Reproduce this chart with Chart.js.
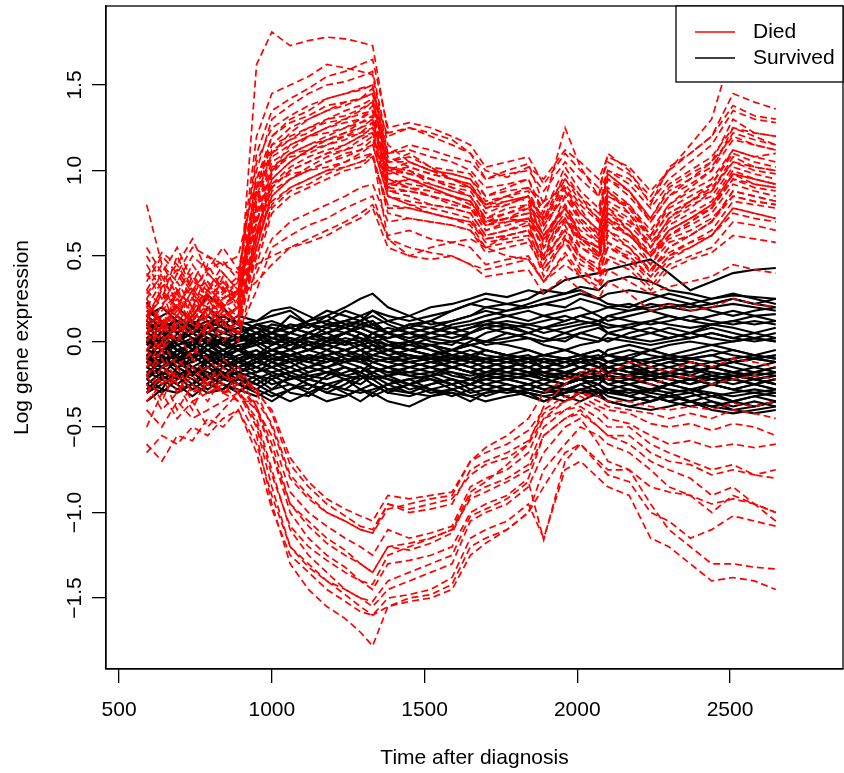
<!DOCTYPE html>
<html>
<head>
<meta charset="utf-8">
<script src="https://cdn.jsdelivr.net/npm/chart.js@4/dist/chart.umd.min.js"></script>
<style>
html,body{margin:0;padding:0;background:#fff;}
canvas{display:block;}
</style>
</head>
<body>
<canvas id="c" width="844" height="773"></canvas>
<script>
// ---- data ----
const times = [590,640,690,740,790,840,890,950,1000,1060,1120,1180,1240,1290,1330,1380,1450,1520,1590,1650,1700,1770,1840,1890,1960,2010,2070,2100,2170,2240,2300,2370,2440,2510,2580,2650];

const xTicks = [500,1000,1500,2000,2500];
const yTicks = [1.5,1.0,0.5,0.0,-0.5,-1.0,-1.5];
const yTickLabels = ["1.5","1.0","0.5","0.0","\u22120.5","\u22121.0","\u22121.5"];
const legendLabels = ["Died","Survived"];
const xTitle = "Time after diagnosis";
const yTitle = "Log gene expression";

// Died, genes going up
const diedUp = [
[0.05,0.22,0.3,0.15,0.25,0.12,0.2,1.62,1.81,1.73,1.76,1.78,1.77,1.75,1.73,1.22,1.25,1.2,1.15,1.1,1.0,0.96,1.02,0.95,1.12,1.05,0.95,1.08,1.02,0.88,1.0,1.15,1.3,1.72,1.62,1.55],
[0.3,0.45,0.35,0.5,0.42,0.47,0.36,1.2,1.45,1.5,1.55,1.62,1.6,1.58,1.56,1.1,1.15,1.12,1.08,1.05,0.95,1.0,1.04,0.8,1.25,1.02,0.85,1.1,1.0,0.8,1.02,1.1,1.2,1.45,1.4,1.36],
[0.1,0.0,0.25,0.18,0.3,0.2,0.15,1.0,1.3,1.38,1.45,1.5,1.52,1.55,1.58,1.15,1.05,1.0,0.98,0.95,0.85,0.9,0.95,0.72,0.98,0.85,0.7,0.95,0.88,0.7,0.85,0.95,1.05,1.3,1.22,1.2],
[0.2,0.35,0.15,0.3,0.1,0.25,0.3,0.9,1.2,1.3,1.35,1.42,1.45,1.48,1.5,1.05,1.1,1.02,0.95,0.92,0.8,0.85,0.9,0.82,0.9,0.78,0.62,0.85,0.8,0.62,0.8,0.9,1.0,1.25,1.2,1.15],
[-0.05,0.1,0.2,0.05,0.15,0.3,0.22,0.85,1.1,1.22,1.3,1.35,1.4,1.42,1.45,1.0,0.98,0.95,0.9,0.88,0.75,0.8,0.85,0.55,0.85,0.7,0.6,0.88,0.75,0.55,0.72,0.82,0.92,1.12,1.08,1.1],
[0.15,0.05,0.3,0.2,0.05,0.18,0.1,0.7,1.0,1.15,1.2,1.25,1.3,1.35,1.4,1.02,1.0,0.92,0.88,0.85,0.7,0.75,0.8,0.62,0.78,0.6,0.55,0.78,0.7,0.58,0.7,0.78,0.88,1.05,1.0,0.98],
[0.4,0.25,0.5,0.3,0.35,0.2,0.3,0.95,1.15,1.2,1.25,1.28,1.3,1.33,1.35,0.95,0.92,0.9,0.85,0.82,0.7,0.72,0.78,0.5,0.8,0.62,0.5,0.72,0.65,0.45,0.62,0.7,0.78,0.95,0.92,0.9],
[0.0,0.15,0.1,0.25,0.2,0.05,0.1,0.6,0.95,1.05,1.12,1.18,1.22,1.28,1.32,0.92,0.9,0.88,0.85,0.8,0.68,0.7,0.72,0.6,0.72,0.55,0.5,0.68,0.62,0.5,0.65,0.72,0.8,0.98,0.95,0.92],
[0.25,0.1,0.0,0.2,0.3,0.35,0.25,0.75,1.0,1.08,1.1,1.15,1.18,1.22,1.28,0.98,1.0,0.95,0.9,0.85,0.72,0.78,0.8,0.68,0.85,0.72,0.62,0.82,0.75,0.6,0.75,0.82,0.88,1.08,1.02,1.0],
[-0.1,0.05,0.15,0.0,0.1,0.2,0.05,0.55,0.85,0.95,1.02,1.08,1.12,1.18,1.22,0.88,0.85,0.8,0.78,0.75,0.62,0.65,0.7,0.45,0.68,0.5,0.42,0.62,0.55,0.4,0.55,0.62,0.7,0.88,0.85,0.82],
[0.12,0.28,0.2,0.38,0.25,0.15,0.2,0.65,0.9,1.0,1.05,1.1,1.15,1.2,1.25,1.05,1.08,1.02,1.0,0.98,0.85,0.88,0.9,0.78,0.95,0.85,0.75,0.98,0.88,0.72,0.9,0.98,1.05,1.2,1.15,1.12],
[0.05,-0.05,0.1,0.15,0.0,0.1,0.15,0.5,0.8,0.9,0.95,1.0,1.05,1.1,1.15,0.85,0.8,0.78,0.75,0.72,0.6,0.62,0.65,0.42,0.62,0.48,0.4,0.55,0.5,0.38,0.5,0.58,0.65,0.82,0.8,0.78],
[0.3,0.2,0.4,0.25,0.45,0.3,0.25,0.8,1.05,1.12,1.2,1.25,1.28,1.3,1.38,1.1,1.12,1.08,1.05,1.0,0.9,0.92,0.95,0.75,1.02,0.88,0.78,1.0,0.92,0.78,0.92,1.0,1.08,1.25,1.22,1.2],
[0.15,0.3,0.05,0.2,0.15,0.25,0.35,0.7,0.92,0.98,1.0,1.05,1.08,1.12,1.18,0.9,0.95,0.9,0.85,0.82,0.7,0.72,0.75,0.58,0.75,0.6,0.52,0.75,0.65,0.5,0.65,0.72,0.8,0.98,0.95,0.92],
[-0.15,0.0,0.1,0.05,0.2,0.1,0.0,0.45,0.75,0.85,0.9,0.95,1.0,1.02,1.08,0.8,0.78,0.75,0.72,0.7,0.58,0.6,0.62,0.38,0.6,0.42,0.35,0.58,0.48,0.35,0.48,0.55,0.62,0.78,0.75,0.72],
[0.2,0.35,0.25,0.1,0.3,0.4,0.3,0.85,1.1,1.18,1.22,1.3,1.32,1.36,1.4,1.0,1.02,0.98,0.95,0.92,0.78,0.82,0.85,0.7,0.9,0.75,0.65,0.9,0.8,0.65,0.8,0.88,0.95,1.12,1.08,1.05],
[0.1,0.2,0.15,0.3,0.25,0.2,0.25,0.35,0.45,0.55,0.6,0.65,0.7,0.75,0.8,0.62,0.65,0.6,0.58,0.55,0.45,0.48,0.5,0.35,0.52,0.4,0.35,0.5,0.45,0.32,0.45,0.5,0.55,0.7,0.68,0.65],
[0.35,0.5,0.4,0.55,0.5,0.45,0.4,0.45,0.5,0.55,0.58,0.62,0.68,0.72,0.78,0.55,0.5,0.48,0.5,0.45,0.42,0.45,0.48,0.35,0.5,0.38,0.32,0.48,0.42,0.3,0.42,0.48,0.52,0.62,0.6,0.58],
[0.08,0.18,0.28,0.12,0.22,0.32,0.18,0.62,0.98,1.1,1.15,1.2,1.25,1.28,1.3,0.95,0.9,0.85,0.82,0.78,0.65,0.68,0.72,0.55,0.72,0.58,0.5,0.72,0.62,0.5,0.62,0.7,0.78,0.98,0.92,0.9],
[0.5,0.35,0.45,0.6,0.4,0.3,0.38,1.05,1.25,1.32,1.38,1.42,1.45,1.47,1.5,1.08,1.02,0.98,0.95,0.9,0.8,0.82,0.85,0.72,0.92,0.8,0.7,0.95,0.85,0.7,0.85,0.92,1.0,1.18,1.15,1.12],
[0.8,0.45,0.3,0.2,0.35,0.25,0.3,0.78,1.02,1.1,1.15,1.18,1.2,1.22,1.25,0.9,0.88,0.85,0.8,0.78,0.65,0.7,0.72,0.6,0.78,0.62,0.55,0.78,0.65,0.52,0.65,0.72,0.78,0.95,0.9,0.88],
[-0.2,-0.05,0.05,-0.1,0.1,0.05,0.12,0.55,0.88,0.95,1.0,1.05,1.1,1.12,1.15,0.85,0.82,0.8,0.78,0.75,0.62,0.65,0.68,0.48,0.65,0.5,0.42,0.65,0.55,0.42,0.55,0.62,0.7,0.88,0.85,0.82],
[0.25,0.4,0.55,0.35,0.3,0.45,0.5,0.95,1.2,1.28,1.32,1.38,1.4,1.42,1.48,1.05,1.05,1.0,0.98,0.95,0.82,0.85,0.88,0.7,0.95,0.82,0.72,0.98,0.88,0.72,0.88,0.95,1.02,1.22,1.18,1.15],
[0.0,0.1,0.2,0.1,0.05,0.15,0.2,0.4,0.6,0.7,0.75,0.8,0.85,0.9,0.92,0.7,0.72,0.7,0.68,0.65,0.52,0.55,0.58,0.42,0.58,0.45,0.4,0.55,0.48,0.38,0.5,0.55,0.62,0.78,0.75,0.72],
[0.1,-0.05,0.15,0.05,0.2,0.1,0.05,0.3,0.55,0.62,0.68,0.72,0.78,0.82,0.85,0.6,0.55,0.52,0.5,0.45,0.38,0.4,0.42,0.28,0.38,0.3,0.25,0.35,0.28,0.18,0.22,0.18,0.2,0.25,0.22,0.2],
[0.2,0.1,0.3,0.4,0.25,0.35,0.2,0.55,0.85,0.95,1.0,1.02,1.05,1.08,1.1,0.6,0.5,0.55,0.58,0.6,0.55,0.62,0.65,0.5,0.72,0.6,0.55,0.7,0.62,0.5,0.6,0.65,0.72,0.85,0.82,0.8],
[0.15,0.25,0.35,0.2,0.4,0.3,0.25,0.9,1.15,1.25,1.3,1.35,1.38,1.42,1.45,1.2,1.25,1.22,1.18,1.1,0.95,0.98,1.0,0.88,1.05,0.95,0.85,1.0,0.95,0.82,0.95,1.05,1.15,1.35,1.3,1.28],
[0.45,0.3,0.2,0.35,0.5,0.4,0.3,0.7,0.95,1.05,1.12,1.15,1.2,1.25,1.3,1.0,0.95,0.92,0.88,0.85,0.72,0.75,0.78,0.62,0.78,0.65,0.58,0.75,0.68,0.55,0.68,0.75,0.82,1.0,0.95,0.92],
[0.05,0.12,0.0,0.18,0.1,0.22,0.15,0.6,0.9,1.0,1.05,1.1,1.12,1.15,1.2,0.85,0.8,0.75,0.72,0.68,0.55,0.5,0.48,0.35,0.45,0.38,0.3,0.42,0.35,0.28,0.32,0.35,0.38,0.45,0.42,0.4],
[0.28,0.38,0.22,0.12,0.3,0.2,0.28,0.82,1.08,1.15,1.2,1.22,1.25,1.3,1.35,1.0,1.05,1.0,0.95,0.9,0.8,0.85,0.82,0.65,0.88,0.75,0.65,0.88,0.78,0.62,0.78,0.85,0.92,1.1,1.05,1.02],
[0.18,0.08,0.22,0.32,0.15,0.28,0.35,1.1,1.35,1.42,1.48,1.55,1.58,1.62,1.65,1.25,1.28,1.25,1.2,1.15,1.02,1.05,1.08,0.92,1.1,1.0,0.9,1.05,0.98,0.85,1.0,1.1,1.2,1.38,1.32,1.3],
[-0.05,0.08,0.18,0.25,0.12,0.0,0.1,0.5,0.78,0.88,0.92,0.98,1.02,1.05,1.1,0.75,0.72,0.7,0.68,0.65,0.55,0.58,0.6,0.48,0.6,0.5,0.45,0.58,0.52,0.42,0.52,0.58,0.62,0.75,0.72,0.7],
[0.38,0.52,0.45,0.3,0.42,0.55,0.42,0.88,1.12,1.18,1.25,1.3,1.35,1.38,1.42,1.02,0.98,0.95,0.92,0.9,0.78,0.8,0.85,0.68,0.88,0.72,0.62,0.85,0.78,0.6,0.75,0.82,0.9,1.05,1.02,1.0],
[0.12,0.32,0.42,0.28,0.18,0.38,0.22,0.72,1.0,1.1,1.12,1.18,1.22,1.25,1.28,0.92,0.95,0.9,0.85,0.82,0.68,0.72,0.75,0.62,0.8,0.68,0.58,0.8,0.72,0.55,0.72,0.8,0.85,1.02,0.98,0.95],
[0.22,0.12,0.05,0.15,0.28,0.18,0.12,0.65,0.92,1.02,1.08,1.12,1.15,1.2,1.22,0.88,0.88,0.85,0.82,0.78,0.68,0.72,0.7,0.55,0.7,0.6,0.52,0.72,0.62,0.5,0.62,0.68,0.75,0.92,0.88,0.85],
[0.55,0.4,0.28,0.45,0.32,0.22,0.28,0.6,0.82,0.9,0.95,1.0,1.02,1.05,1.08,0.78,0.78,0.75,0.72,0.7,0.6,0.62,0.65,0.5,0.65,0.55,0.48,0.65,0.58,0.45,0.58,0.62,0.7,0.85,0.82,0.8]
];

// Died, genes going down
const diedDown = [
[-0.2,-0.35,-0.15,-0.3,-0.25,-0.3,-0.35,-0.55,-0.95,-1.3,-1.45,-1.55,-1.62,-1.7,-1.78,-1.55,-1.5,-1.48,-1.42,-1.2,-1.15,-1.1,-1.0,-0.75,-0.6,-0.5,-0.55,-0.6,-0.65,-0.75,-0.85,-0.9,-1.0,-0.9,-0.95,-1.05],
[-0.6,-0.7,-0.55,-0.58,-0.45,-0.5,-0.4,-0.65,-0.98,-1.25,-1.35,-1.45,-1.52,-1.58,-1.6,-1.5,-1.48,-1.45,-1.38,-1.15,-1.1,-1.05,-0.95,-1.15,-0.75,-0.7,-0.8,-0.85,-0.9,-1.15,-1.2,-1.3,-1.4,-1.38,-1.4,-1.45],
[-0.1,-0.25,-0.2,-0.35,-0.3,-0.15,-0.3,-0.45,-0.75,-1.1,-1.25,-1.35,-1.45,-1.5,-1.55,-1.45,-1.4,-1.35,-1.3,-1.05,-1.0,-0.95,-0.85,-0.65,-0.5,-0.45,-0.6,-0.7,-0.75,-0.95,-1.1,-1.2,-1.3,-1.3,-1.32,-1.33],
[-0.3,-0.2,-0.4,-0.25,-0.35,-0.2,-0.25,-0.4,-0.65,-1.0,-1.15,-1.25,-1.32,-1.4,-1.45,-1.3,-1.28,-1.25,-1.2,-1.0,-0.95,-0.9,-0.8,-0.55,-0.45,-0.4,-0.5,-0.55,-0.6,-0.7,-0.75,-0.8,-0.9,-0.85,-0.95,-1.0],
[-0.15,-0.05,-0.25,-0.1,-0.2,-0.3,-0.2,-0.38,-0.6,-0.95,-1.05,-1.15,-1.22,-1.3,-1.35,-1.2,-1.22,-1.18,-1.12,-0.9,-0.85,-0.8,-0.72,-0.5,-0.4,-0.38,-0.45,-0.5,-0.5,-0.6,-0.65,-0.7,-0.75,-0.72,-0.78,-0.8],
[-0.4,-0.5,-0.35,-0.45,-0.4,-0.35,-0.3,-0.4,-0.55,-0.88,-1.0,-1.08,-1.15,-1.2,-1.25,-1.1,-1.15,-1.12,-1.08,-0.85,-0.8,-0.75,-0.65,-0.45,-0.4,-0.35,-0.4,-0.45,-0.48,-0.55,-0.6,-0.58,-0.62,-0.6,-0.62,-0.6],
[-0.25,-0.4,-0.3,-0.2,-0.3,-0.25,-0.35,-0.35,-0.48,-0.78,-0.9,-1.0,-1.05,-1.1,-1.12,-0.95,-1.0,-0.98,-0.95,-0.75,-0.7,-0.65,-0.58,-0.42,-0.35,-0.32,-0.38,-0.4,-0.42,-0.48,-0.5,-0.48,-0.52,-0.48,-0.5,-0.55],
[-0.05,-0.15,-0.1,-0.2,-0.15,-0.25,-0.2,-0.3,-0.4,-0.68,-0.82,-0.92,-0.98,-1.02,-1.05,-0.9,-0.92,-0.9,-0.88,-0.7,-0.65,-0.6,-0.52,-0.4,-0.32,-0.3,-0.35,-0.38,-0.4,-0.42,-0.45,-0.42,-0.45,-0.4,-0.42,-0.45],
[-0.5,-0.3,-0.45,-0.35,-0.5,-0.4,-0.3,-0.5,-0.85,-1.2,-1.3,-1.4,-1.45,-1.5,-1.52,-1.4,-1.35,-1.3,-1.25,-1.02,-0.98,-0.92,-0.82,-1.16,-0.7,-0.6,-0.72,-0.78,-0.82,-1.0,-1.05,-1.15,-1.1,-1.02,-1.05,-1.08],
[-0.35,-0.25,-0.15,-0.3,-0.2,-0.3,-0.28,-0.48,-0.78,-1.08,-1.2,-1.28,-1.35,-1.4,-1.42,-1.25,-1.2,-1.15,-1.1,-0.92,-0.88,-0.82,-0.75,-0.55,-0.45,-0.42,-0.5,-0.55,-0.55,-0.65,-0.7,-0.72,-0.78,-0.75,-0.78,-0.75],
[-0.65,-0.55,-0.6,-0.5,-0.55,-0.45,-0.4,-0.6,-0.9,-1.2,-1.32,-1.4,-1.48,-1.55,-1.6,-1.55,-1.52,-1.5,-1.45,-1.25,-1.18,-1.1,-1.0,-0.85,-0.65,-0.6,-0.7,-0.75,-0.75,-0.85,-0.88,-0.9,-0.95,-0.92,-0.95,-1.0],
[-0.2,-0.1,-0.3,-0.15,-0.25,-0.1,-0.18,-0.28,-0.42,-0.72,-0.85,-0.95,-1.02,-1.08,-1.1,-0.95,-0.98,-0.95,-0.92,-0.78,-0.72,-0.68,-0.6,-0.45,-0.35,-0.3,-0.32,-0.35,-0.35,-0.38,-0.4,-0.38,-0.4,-0.36,-0.38,-0.35],
[-0.1,0.0,-0.15,-0.05,-0.1,-0.2,-0.15,-0.3,-0.5,-0.8,-0.92,-1.0,-1.05,-1.1,-1.12,-0.98,-0.95,-0.92,-0.9,-0.7,-0.62,-0.55,-0.45,-0.3,-0.22,-0.2,-0.18,-0.22,-0.2,-0.25,-0.22,-0.2,-0.25,-0.22,-0.2,-0.22],
[-0.3,-0.15,-0.25,-0.4,-0.2,-0.3,-0.25,-0.38,-0.65,-0.95,-1.08,-1.18,-1.25,-1.3,-1.35,-1.2,-1.18,-1.15,-1.1,-0.88,-0.82,-0.72,-0.6,-0.38,-0.25,-0.18,-0.15,-0.2,-0.12,-0.15,-0.18,-0.12,-0.15,-0.1,-0.12,-0.15]
];

// Survived
const survived = [
[0.1,0.05,0.15,0.08,0.2,0.12,0.05,0.1,0.05,0.15,0.1,0.12,0.18,0.15,0.1,0.12,0.15,0.2,0.22,0.25,0.28,0.26,0.3,0.28,0.36,0.38,0.4,0.42,0.45,0.48,0.4,0.3,0.35,0.4,0.42,0.43],
[0.23,0.1,0.05,0.15,0.27,0.2,0.1,0.0,0.05,0.1,0.08,0.15,0.2,0.25,0.28,0.2,0.15,0.1,0.12,0.15,0.2,0.22,0.25,0.3,0.28,0.32,0.3,0.35,0.38,0.35,0.3,0.28,0.25,0.27,0.26,0.25],
[0.0,-0.1,0.05,-0.05,0.1,0.0,-0.05,0.05,0.0,-0.05,0.05,0.1,0.12,0.15,0.1,0.05,0.0,0.05,0.1,0.12,0.15,0.18,0.2,0.22,0.2,0.25,0.22,0.2,0.18,0.22,0.2,0.18,0.2,0.22,0.2,0.18],
[-0.1,-0.15,-0.05,-0.12,-0.08,-0.15,-0.1,-0.05,-0.1,-0.08,-0.05,0.0,-0.02,0.05,0.0,-0.05,-0.1,-0.08,-0.05,0.0,0.05,0.08,0.1,0.12,0.15,0.12,0.1,0.15,0.12,0.1,0.12,0.15,0.12,0.1,0.12,0.1],
[-0.2,-0.1,-0.18,-0.25,-0.15,-0.2,-0.12,-0.18,-0.15,-0.1,-0.15,-0.12,-0.08,-0.1,-0.15,-0.2,-0.18,-0.15,-0.2,-0.22,-0.18,-0.2,-0.22,-0.25,-0.2,-0.22,-0.25,-0.2,-0.22,-0.25,-0.28,-0.3,-0.25,-0.28,-0.3,-0.32],
[0.05,0.1,-0.02,0.0,0.08,0.05,0.12,0.08,0.05,0.0,0.02,0.05,0.0,-0.02,0.05,0.0,-0.05,-0.02,-0.08,-0.1,-0.05,-0.08,-0.1,-0.12,-0.15,-0.1,-0.08,-0.12,-0.1,-0.15,-0.12,-0.1,-0.08,-0.12,-0.1,-0.12],
[-0.3,-0.25,-0.2,-0.28,-0.22,-0.18,-0.25,-0.2,-0.25,-0.22,-0.2,-0.18,-0.22,-0.25,-0.2,-0.22,-0.25,-0.28,-0.25,-0.3,-0.28,-0.25,-0.28,-0.3,-0.25,-0.22,-0.28,-0.3,-0.32,-0.28,-0.3,-0.35,-0.38,-0.4,-0.42,-0.4],
[-0.05,0.0,-0.1,-0.05,-0.12,-0.08,-0.02,-0.1,-0.05,-0.1,-0.12,-0.08,-0.05,-0.1,-0.12,-0.15,-0.12,-0.1,-0.15,-0.18,-0.15,-0.12,-0.15,-0.18,-0.2,-0.15,-0.12,-0.18,-0.15,-0.2,-0.18,-0.15,-0.2,-0.22,-0.18,-0.2],
[0.1,0.15,0.2,0.12,0.08,0.15,0.1,0.12,0.15,0.18,0.1,0.05,0.1,0.08,0.05,0.02,0.05,0.0,-0.02,0.05,0.08,0.05,0.02,0.0,0.05,0.02,0.0,0.05,0.08,0.05,0.02,0.05,0.08,0.05,0.02,0.05],
[-0.15,-0.2,-0.1,-0.15,-0.2,-0.12,-0.18,-0.22,-0.28,-0.2,-0.25,-0.3,-0.25,-0.2,-0.22,-0.28,-0.3,-0.25,-0.22,-0.25,-0.2,-0.22,-0.25,-0.22,-0.18,-0.2,-0.15,-0.18,-0.2,-0.15,-0.18,-0.2,-0.15,-0.18,-0.2,-0.18],
[-0.08,-0.02,-0.12,-0.05,0.0,-0.08,-0.05,0.0,0.05,0.0,-0.05,0.0,0.05,0.02,-0.02,-0.05,0.0,-0.05,-0.1,-0.08,-0.12,-0.15,-0.12,-0.1,-0.12,-0.15,-0.18,-0.15,-0.12,-0.18,-0.15,-0.12,-0.15,-0.18,-0.15,-0.12],
[0.12,0.05,0.0,0.08,0.02,-0.05,0.0,0.05,-0.02,0.05,0.1,0.08,0.12,0.1,0.08,0.05,0.1,0.12,0.08,0.05,0.1,0.12,0.1,0.08,0.05,0.08,0.1,0.05,0.02,0.05,0.08,0.05,0.1,0.08,0.05,0.08],
[-0.25,-0.18,-0.22,-0.15,-0.2,-0.25,-0.3,-0.22,-0.18,-0.15,-0.2,-0.22,-0.18,-0.15,-0.2,-0.25,-0.22,-0.2,-0.25,-0.22,-0.25,-0.28,-0.25,-0.28,-0.3,-0.25,-0.22,-0.25,-0.28,-0.3,-0.25,-0.22,-0.25,-0.28,-0.25,-0.28],
[0.0,0.05,0.08,0.02,-0.05,0.0,0.05,-0.02,0.0,-0.05,-0.02,0.02,0.0,-0.05,-0.08,-0.05,-0.02,-0.05,-0.08,-0.12,-0.1,-0.08,-0.1,-0.15,-0.12,-0.1,-0.15,-0.18,-0.15,-0.12,-0.1,-0.12,-0.15,-0.12,-0.1,-0.08],
[-0.12,-0.08,-0.15,-0.2,-0.1,-0.05,-0.12,-0.15,-0.1,-0.12,-0.08,-0.1,-0.12,-0.08,-0.1,-0.12,-0.15,-0.12,-0.1,-0.12,-0.15,-0.18,-0.2,-0.18,-0.22,-0.2,-0.18,-0.22,-0.25,-0.22,-0.2,-0.22,-0.25,-0.2,-0.22,-0.25],
[0.15,0.08,0.12,0.05,0.1,0.05,0.02,0.1,0.08,0.05,0.12,0.15,0.1,0.12,0.15,0.1,0.05,0.08,0.12,0.15,0.18,0.15,0.12,0.15,0.18,0.2,0.15,0.12,0.15,0.18,0.15,0.12,0.15,0.18,0.15,0.16],
[-0.22,-0.28,-0.15,-0.2,-0.12,-0.18,-0.22,-0.25,-0.2,-0.25,-0.28,-0.2,-0.15,-0.18,-0.22,-0.2,-0.25,-0.22,-0.28,-0.25,-0.22,-0.25,-0.28,-0.3,-0.28,-0.25,-0.3,-0.28,-0.32,-0.35,-0.3,-0.28,-0.32,-0.35,-0.38,-0.35],
[0.02,-0.05,0.0,0.05,-0.02,-0.08,-0.05,-0.1,-0.05,0.0,0.05,0.02,-0.02,0.0,0.05,0.08,0.05,0.02,0.0,-0.02,0.0,0.05,0.02,0.0,0.02,0.05,0.08,0.05,0.02,0.0,0.02,0.05,0.02,0.0,0.02,0.0],
[-0.18,-0.12,-0.08,-0.15,-0.22,-0.15,-0.1,-0.15,-0.18,-0.22,-0.18,-0.15,-0.2,-0.18,-0.15,-0.18,-0.2,-0.18,-0.15,-0.18,-0.2,-0.18,-0.15,-0.2,-0.22,-0.18,-0.2,-0.25,-0.22,-0.2,-0.22,-0.25,-0.22,-0.2,-0.22,-0.25],
[-0.05,-0.1,-0.08,0.0,-0.05,-0.12,-0.08,-0.05,-0.12,-0.15,-0.1,-0.05,-0.1,-0.12,-0.08,-0.1,-0.12,-0.15,-0.12,-0.1,-0.12,-0.1,-0.08,-0.12,-0.1,-0.08,-0.05,-0.08,-0.1,-0.05,-0.02,0.0,-0.02,0.0,0.02,0.0],
[0.08,0.02,0.1,0.05,0.0,0.05,0.08,0.02,-0.02,0.02,0.0,-0.05,0.0,0.02,-0.02,-0.08,-0.05,-0.02,-0.05,-0.02,0.0,-0.02,-0.05,-0.08,-0.1,-0.12,-0.1,-0.08,-0.05,-0.08,-0.1,-0.08,-0.05,-0.08,-0.1,-0.08],
[-0.28,-0.2,-0.25,-0.32,-0.25,-0.2,-0.15,-0.2,-0.22,-0.3,-0.32,-0.25,-0.22,-0.28,-0.32,-0.28,-0.25,-0.3,-0.28,-0.32,-0.3,-0.28,-0.3,-0.32,-0.3,-0.28,-0.25,-0.3,-0.28,-0.32,-0.35,-0.32,-0.3,-0.35,-0.32,-0.3],
[-0.02,0.05,-0.05,-0.1,-0.02,0.02,-0.05,-0.08,-0.02,0.02,-0.02,-0.05,-0.08,-0.05,-0.02,-0.05,-0.08,-0.1,-0.08,-0.05,-0.08,-0.1,-0.12,-0.1,-0.15,-0.12,-0.1,-0.12,-0.15,-0.12,-0.15,-0.18,-0.15,-0.12,-0.15,-0.18],
[-0.1,-0.05,-0.12,-0.08,-0.05,-0.1,-0.15,-0.12,-0.08,-0.05,-0.1,-0.12,-0.08,-0.05,-0.1,-0.12,-0.1,-0.08,-0.12,-0.15,-0.18,-0.15,-0.18,-0.2,-0.18,-0.15,-0.12,-0.15,-0.18,-0.2,-0.18,-0.2,-0.22,-0.25,-0.22,-0.2],
[0.05,0.0,0.08,0.1,0.05,0.02,0.0,0.05,0.08,0.05,0.02,0.08,0.05,0.1,0.12,0.05,0.08,0.12,0.18,0.22,0.2,0.18,0.22,0.25,0.28,0.3,0.25,0.22,0.2,0.25,0.28,0.25,0.22,0.25,0.22,0.2],
[-0.15,-0.2,-0.25,-0.18,-0.12,-0.2,-0.25,-0.3,-0.35,-0.28,-0.22,-0.25,-0.3,-0.35,-0.3,-0.25,-0.22,-0.28,-0.32,-0.28,-0.25,-0.28,-0.3,-0.35,-0.3,-0.28,-0.32,-0.28,-0.25,-0.3,-0.32,-0.35,-0.32,-0.3,-0.28,-0.3],
[0.0,-0.05,0.02,0.08,0.12,0.08,0.02,0.0,-0.05,-0.02,0.02,0.05,0.08,0.05,0.02,-0.02,-0.05,-0.08,-0.05,-0.08,-0.1,-0.12,-0.1,-0.08,-0.05,-0.08,-0.1,-0.05,-0.02,-0.05,-0.08,-0.05,-0.02,-0.05,-0.08,-0.05],
[-0.08,-0.15,-0.1,-0.05,-0.1,-0.15,-0.12,-0.08,-0.12,-0.18,-0.15,-0.1,-0.12,-0.15,-0.18,-0.15,-0.12,-0.15,-0.18,-0.2,-0.18,-0.15,-0.18,-0.22,-0.25,-0.22,-0.2,-0.22,-0.25,-0.28,-0.25,-0.22,-0.25,-0.28,-0.25,-0.22],
[0.1,0.05,0.0,0.05,0.1,0.15,0.1,0.05,0.1,0.08,0.05,0.1,0.12,0.15,0.18,0.12,0.08,0.05,0.02,0.05,0.08,0.1,0.05,0.08,0.12,0.15,0.12,0.15,0.18,0.2,0.22,0.2,0.22,0.25,0.22,0.25],
[-0.2,-0.15,-0.1,-0.18,-0.25,-0.2,-0.18,-0.12,-0.15,-0.2,-0.25,-0.28,-0.22,-0.2,-0.25,-0.3,-0.25,-0.2,-0.18,-0.22,-0.25,-0.22,-0.2,-0.22,-0.25,-0.2,-0.22,-0.18,-0.2,-0.22,-0.25,-0.22,-0.2,-0.22,-0.25,-0.22],
[0.05,-0.02,-0.08,0.0,0.05,-0.02,-0.05,0.02,0.05,0.08,0.05,0.0,0.05,0.08,0.1,0.05,0.0,-0.02,0.0,0.02,-0.02,0.0,0.02,-0.02,-0.05,-0.02,0.0,0.02,0.0,-0.02,0.0,0.02,0.05,0.02,0.0,0.02],
[-0.12,-0.18,-0.22,-0.15,-0.1,-0.15,-0.2,-0.18,-0.12,-0.08,-0.12,-0.15,-0.12,-0.08,-0.12,-0.15,-0.18,-0.2,-0.15,-0.12,-0.15,-0.18,-0.2,-0.15,-0.18,-0.2,-0.22,-0.18,-0.15,-0.18,-0.2,-0.18,-0.15,-0.18,-0.2,-0.18],
[-0.25,-0.3,-0.22,-0.18,-0.25,-0.28,-0.2,-0.25,-0.3,-0.35,-0.3,-0.25,-0.28,-0.3,-0.28,-0.25,-0.3,-0.32,-0.28,-0.25,-0.28,-0.3,-0.28,-0.25,-0.28,-0.3,-0.28,-0.32,-0.35,-0.32,-0.35,-0.38,-0.35,-0.38,-0.35,-0.38],
[0.15,0.2,0.12,0.05,0.08,0.12,0.05,0.1,0.12,0.08,0.12,0.18,0.15,0.12,0.08,0.05,0.1,0.08,0.05,0.08,0.12,0.1,0.08,0.05,0.08,0.1,0.12,0.1,0.08,0.12,0.1,0.08,0.1,0.12,0.1,0.12],
[-0.08,-0.12,-0.05,-0.02,-0.08,-0.05,-0.1,-0.08,-0.05,-0.08,-0.05,-0.02,-0.05,-0.08,-0.05,-0.02,-0.05,-0.08,-0.1,-0.08,-0.12,-0.1,-0.12,-0.15,-0.12,-0.1,-0.12,-0.15,-0.18,-0.15,-0.12,-0.15,-0.12,-0.15,-0.18,-0.15],
[-0.02,0.02,-0.05,-0.08,-0.02,0.0,0.02,-0.02,0.02,0.0,-0.05,-0.02,0.02,0.0,-0.05,-0.02,0.0,-0.02,-0.05,-0.08,-0.05,-0.08,-0.05,-0.08,-0.1,-0.08,-0.05,-0.08,-0.12,-0.1,-0.08,-0.1,-0.12,-0.1,-0.08,-0.1],
[-0.18,-0.22,-0.28,-0.25,-0.2,-0.25,-0.28,-0.32,-0.28,-0.25,-0.3,-0.35,-0.32,-0.28,-0.3,-0.35,-0.38,-0.32,-0.3,-0.35,-0.3,-0.28,-0.32,-0.35,-0.3,-0.28,-0.3,-0.35,-0.38,-0.35,-0.32,-0.3,-0.35,-0.4,-0.38,-0.35],
[0.08,0.12,0.05,0.1,0.15,0.08,0.05,0.08,0.02,0.05,0.1,0.12,0.08,0.05,0.02,0.05,0.02,0.05,0.08,0.1,0.12,0.15,0.18,0.15,0.12,0.15,0.18,0.2,0.22,0.18,0.2,0.22,0.18,0.15,0.18,0.2],
[-0.1,-0.05,-0.02,-0.08,-0.15,-0.1,-0.05,-0.12,-0.15,-0.12,-0.08,-0.1,-0.15,-0.18,-0.12,-0.1,-0.08,-0.12,-0.15,-0.18,-0.15,-0.12,-0.15,-0.18,-0.15,-0.12,-0.15,-0.2,-0.22,-0.2,-0.22,-0.25,-0.2,-0.18,-0.22,-0.25],
[-0.3,-0.22,-0.18,-0.22,-0.28,-0.22,-0.25,-0.28,-0.22,-0.18,-0.22,-0.25,-0.28,-0.22,-0.18,-0.22,-0.28,-0.25,-0.22,-0.28,-0.32,-0.28,-0.25,-0.28,-0.32,-0.35,-0.3,-0.28,-0.32,-0.35,-0.32,-0.35,-0.38,-0.35,-0.32,-0.35],
[0.02,0.08,0.12,0.08,0.02,-0.02,0.02,0.05,0.02,-0.02,0.02,0.0,0.05,0.08,0.05,0.0,-0.02,0.02,0.05,0.02,0.0,0.02,0.05,0.02,0.0,0.05,0.02,0.0,0.05,0.08,0.05,0.02,0.05,0.02,0.05,0.02],
[-0.15,-0.1,-0.15,-0.12,-0.08,-0.12,-0.15,-0.1,-0.08,-0.12,-0.18,-0.15,-0.1,-0.12,-0.15,-0.18,-0.15,-0.12,-0.15,-0.18,-0.2,-0.15,-0.12,-0.15,-0.18,-0.15,-0.18,-0.22,-0.2,-0.18,-0.2,-0.22,-0.18,-0.2,-0.22,-0.2],
[-0.05,-0.08,-0.02,0.02,0.0,-0.05,-0.02,0.0,-0.05,-0.08,-0.05,-0.08,-0.05,-0.02,-0.05,-0.08,-0.12,-0.1,-0.12,-0.15,-0.12,-0.15,-0.18,-0.15,-0.18,-0.2,-0.18,-0.15,-0.18,-0.2,-0.18,-0.15,-0.18,-0.2,-0.18,-0.15],
[0.18,0.12,0.08,0.12,0.05,0.1,0.15,0.12,0.18,0.2,0.15,0.1,0.08,0.12,0.18,0.15,0.12,0.15,0.18,0.22,0.25,0.22,0.2,0.22,0.25,0.28,0.25,0.28,0.3,0.28,0.25,0.22,0.25,0.28,0.25,0.22],
[-0.22,-0.15,-0.12,-0.18,-0.15,-0.22,-0.18,-0.15,-0.2,-0.18,-0.15,-0.18,-0.2,-0.22,-0.18,-0.15,-0.2,-0.22,-0.25,-0.22,-0.2,-0.22,-0.25,-0.28,-0.25,-0.22,-0.25,-0.28,-0.3,-0.28,-0.25,-0.28,-0.3,-0.32,-0.3,-0.28],
[0.05,0.0,-0.05,-0.02,0.02,0.0,-0.05,-0.02,-0.08,-0.05,0.0,-0.02,-0.05,-0.02,0.0,-0.02,-0.05,-0.08,-0.05,-0.02,-0.05,-0.08,-0.1,-0.08,-0.05,-0.08,-0.1,-0.12,-0.08,-0.05,-0.08,-0.1,-0.08,-0.05,-0.08,-0.1],
[-0.12,-0.15,-0.2,-0.15,-0.18,-0.22,-0.15,-0.1,-0.15,-0.2,-0.22,-0.18,-0.15,-0.2,-0.22,-0.2,-0.15,-0.18,-0.22,-0.25,-0.22,-0.2,-0.18,-0.22,-0.25,-0.22,-0.2,-0.22,-0.25,-0.22,-0.25,-0.28,-0.25,-0.22,-0.25,-0.28],
[0.0,0.05,0.02,-0.05,-0.1,-0.05,0.0,0.02,0.05,0.02,-0.02,0.02,0.05,0.02,0.0,0.02,0.05,0.08,0.05,0.08,0.1,0.08,0.05,0.08,0.1,0.12,0.1,0.08,0.1,0.12,0.15,0.12,0.1,0.12,0.15,0.12],
[-0.35,-0.28,-0.3,-0.25,-0.3,-0.28,-0.22,-0.28,-0.32,-0.28,-0.25,-0.3,-0.32,-0.28,-0.25,-0.3,-0.32,-0.28,-0.3,-0.32,-0.35,-0.32,-0.3,-0.32,-0.35,-0.3,-0.32,-0.35,-0.38,-0.4,-0.38,-0.35,-0.4,-0.42,-0.4,-0.38],
[-0.05,-0.1,-0.15,-0.1,-0.05,-0.08,-0.12,-0.08,-0.05,-0.08,-0.1,-0.08,-0.12,-0.1,-0.08,-0.05,-0.08,-0.1,-0.08,-0.1,-0.12,-0.1,-0.15,-0.12,-0.1,-0.12,-0.15,-0.12,-0.1,-0.12,-0.1,-0.12,-0.15,-0.12,-0.1,-0.12]
];

// ---- chart ----
const FONT = '"Liberation Sans", Arial, Helvetica, sans-serif';
const FS = 21;
const RED = '#ff0000';
const BLACK = '#000000';

function toPoints(arr){ return times.map((t,i)=>({x:t, y:arr[i]})); }

const datasets = [];
diedUp.concat(diedDown).forEach((arr)=>{
  datasets.push({data: toPoints(arr), borderColor: RED, borderWidth: 1.7, borderDash:[7,4], pointRadius:0, tension:0, fill:false});
});
survived.forEach((arr)=>{
  datasets.push({data: toPoints(arr), borderColor: BLACK, borderWidth: 2.1, pointRadius:0, tension:0, fill:false});
});

const framePlugin = {
  id: 'frame',
  afterDraw(chart){
    const {ctx, chartArea:a, scales} = chart;
    ctx.save();
    ctx.strokeStyle = BLACK; ctx.lineWidth = 1.3;
    ctx.strokeRect(a.left, a.top, a.right - a.left, a.bottom - a.top);
    ctx.fillStyle = BLACK;
    ctx.font = FS + 'px ' + FONT;
    ctx.textAlign = 'center'; ctx.textBaseline = 'middle';
    yTicks.forEach((v,i)=>{
      const y = scales.y.getPixelForValue(v);
      ctx.save(); ctx.translate(75, y); ctx.rotate(-Math.PI/2);
      ctx.fillText(yTickLabels[i], 0, 0);
      ctx.restore();
    });
    const lx = 676, ly = a.top, lw = a.right - 676, lh = 76;
    ctx.fillStyle = '#fff';
    ctx.fillRect(lx, ly, lw, lh);
    ctx.strokeStyle = BLACK; ctx.lineWidth = 1.3;
    ctx.strokeRect(lx, ly, lw, lh);
    const rows = [{c:RED, y:32},{c:BLACK, y:58}];
    rows.forEach((r,i)=>{
      ctx.strokeStyle = r.c; ctx.lineWidth = 1.5; ctx.setLineDash([]);
      ctx.beginPath(); ctx.moveTo(695, r.y); ctx.lineTo(735, r.y); ctx.stroke();
      ctx.fillStyle = BLACK; ctx.textAlign = 'left'; ctx.textBaseline = 'middle';
      ctx.fillText(legendLabels[i], 753, r.y);
    });
    ctx.restore();
  }
};

new Chart(document.getElementById('c'), {
  type: 'line',
  data: { datasets },
  options: {
    responsive: false,
    animation: false,
    devicePixelRatio: 1,
    layout: { padding: { top: 6, right: 1, left: 0, bottom: 0 } },
    plugins: { legend: { display: false }, tooltip: { enabled: false } },
    scales: {
      x: {
        type: 'linear', min: 457, max: 2870,
        afterBuildTicks: s => { s.ticks = xTicks.map(v => ({ value: v })); },
        afterFit: s => { s.height = 104; },
        grid: { drawOnChartArea: false, drawTicks: true, tickLength: 14, color: BLACK, lineWidth: 1.3 },
        border: { display: true, color: BLACK, width: 1.3 },
        ticks: { color: BLACK, font: { family: FONT, size: FS }, padding: 15, maxRotation: 0, minRotation: 0, autoSkip: false,
                 callback: v => String(v) },
        title: { display: true, text: xTitle, color: BLACK, font: { family: FONT, size: FS }, padding: { top: 0, bottom: 2 } }
      },
      y: {
        type: 'linear', min: -1.915, max: 1.962,
        afterBuildTicks: s => { s.ticks = yTicks.map(v => ({ value: v })); },
        afterFit: s => { s.width = 106; },
        grid: { drawOnChartArea: false, drawTicks: true, tickLength: 14, color: BLACK, lineWidth: 1.3 },
        border: { display: true, color: BLACK, width: 1.3 },
        ticks: { display: false },
        title: { display: true, text: yTitle, color: BLACK, font: { family: FONT, size: FS }, padding: { top: 10, bottom: 0 } }
      }
    }
  },
  plugins: [framePlugin]
});
</script>
</body>
</html>
